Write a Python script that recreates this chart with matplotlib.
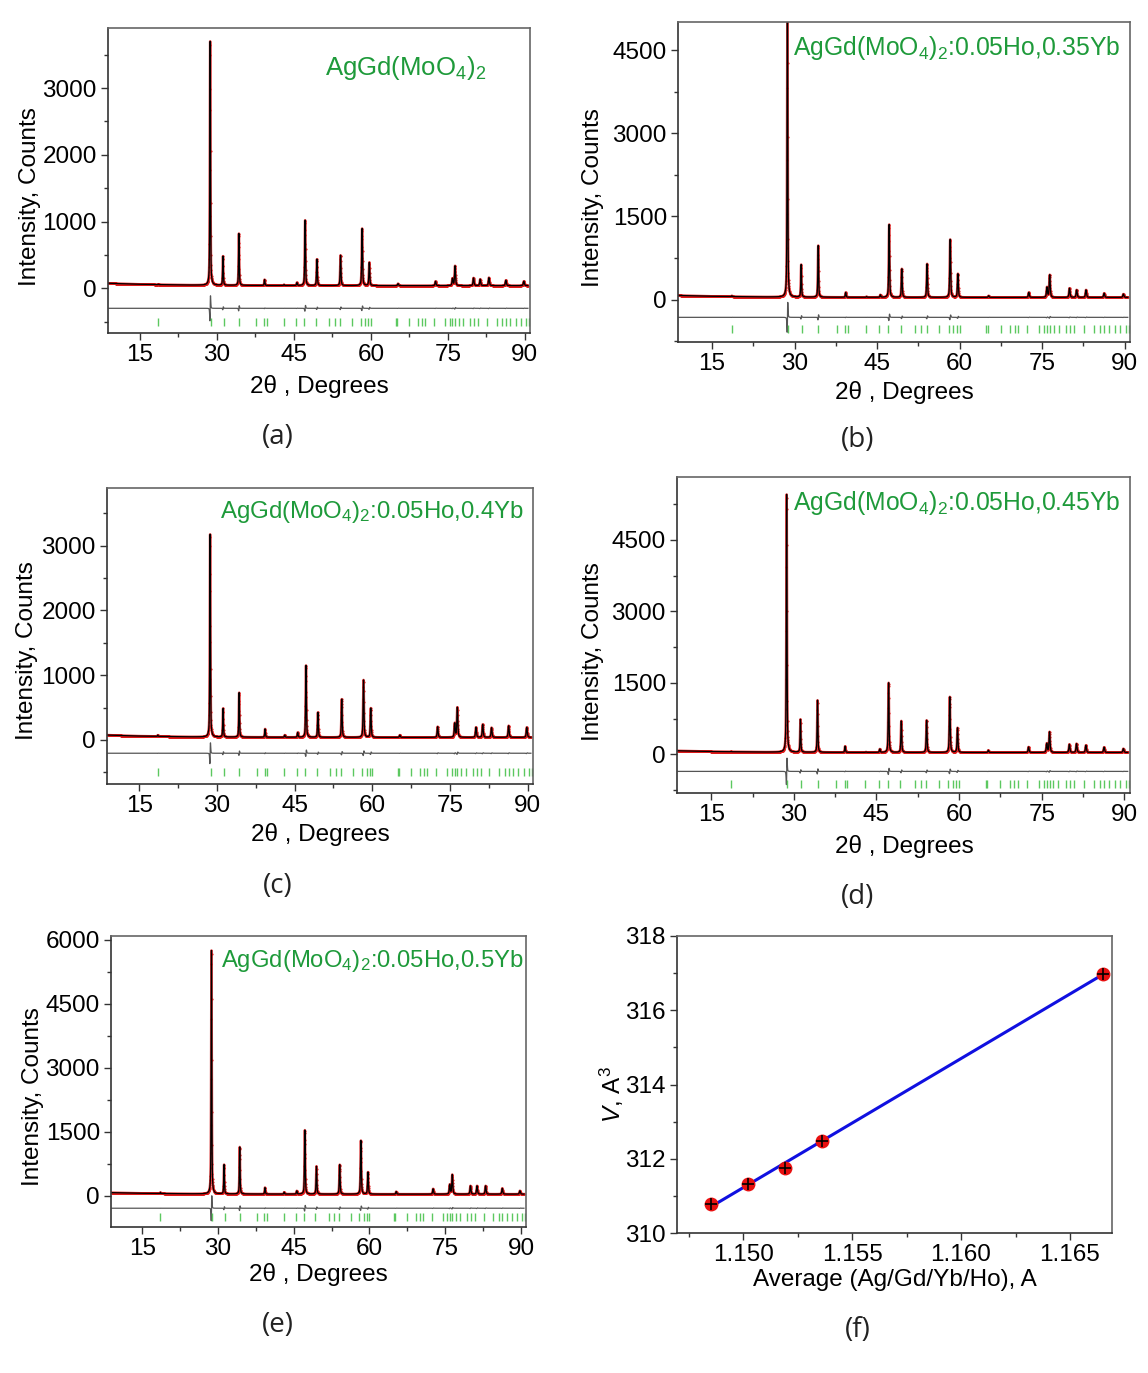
import numpy as np
import matplotlib
matplotlib.use("Agg")
import matplotlib.pyplot as plt
from matplotlib.ticker import MultipleLocator

plt.rcParams['font.family'] = ['Liberation Sans', 'DejaVu Sans']
plt.rcParams['mathtext.fontset'] = 'custom'
plt.rcParams['mathtext.rm'] = 'Liberation Sans'
plt.rcParams['mathtext.it'] = 'Liberation Sans:italic'
plt.rcParams['path.simplify'] = False

# ---- data ----
# reflection positions (2theta, deg) of the visible peaks
peak_pos = [18.6, 28.7, 31.2, 34.3, 39.3, 43.1, 45.6, 47.2, 49.5, 54.1, 58.3,
            59.7, 65.3, 72.6, 75.9, 76.4, 80.0, 81.3, 83.0, 86.3, 89.8]

# peak intensities (counts) for each sample
int_a = [60, 3700, 480, 820, 130, 55, 85, 1020, 435, 495, 895,
         385, 70, 105, 145, 335, 155, 135, 160, 120, 105]
int_b = [70, 5300, 630, 975, 130, 55, 85, 1355, 555, 645, 1085,
         465, 70, 130, 220, 445, 205, 175, 175, 115, 100]
int_c = [75, 3175, 485, 730, 170, 75, 115, 1150, 425, 630, 925,
         490, 75, 205, 255, 500, 195, 240, 190, 220, 195]
int_d = [60, 5450, 730, 1135, 170, 50, 110, 1500, 700, 715, 1205,
         555, 85, 155, 225, 470, 210, 225, 190, 150, 120]
int_e = [80, 5750, 730, 1145, 195, 85, 115, 1540, 690, 730, 1295,
         555, 100, 165, 260, 495, 235, 235, 235, 175, 120]

# background level
bg_pos = [9, 15, 25, 40, 60, 91]
bg_int = [75, 60, 48, 42, 40, 40]

# Bragg reflection markers
bragg_pos = [18.6, 28.8, 31.3, 34.3, 37.7, 39.2, 39.7, 43.0, 45.4, 47.0, 49.3,
             51.9, 53.0, 54.0, 56.3, 58.0, 58.9, 59.5, 60.0, 64.9, 65.1, 67.5,
             69.2, 70.0, 70.6, 72.3, 74.5, 75.4, 75.9, 76.4, 77.1, 78.0, 79.4,
             80.1, 80.9, 82.6, 84.5, 85.6, 86.3, 87.2, 88.2, 89.2, 90.2, 90.8]

names = [r"AgGd(MoO$_4$)$_2$",
         r"AgGd(MoO$_4$)$_2$:0.05Ho,0.35Yb",
         r"AgGd(MoO$_4$)$_2$:0.05Ho,0.4Yb",
         r"AgGd(MoO$_4$)$_2$:0.05Ho,0.45Yb",
         r"AgGd(MoO$_4$)$_2$:0.05Ho,0.5Yb"]
diff_level = [-300, -320, -205, -357, -290]
bragg_level = [-505, -525, -493, -616, -500]
y_limits = [(-670, 3900), (-765, 5010), (-680, 3890), (-810, 5816), (-730, 6090)]
y_major = [1000, 1500, 1000, 1500, 1500]
y_minor = [500, 750, 500, 750, 750]

# panel (f): cell volume vs average radius
avg_radius = [1.1485, 1.1502, 1.1519, 1.1536, 1.1665]
cell_vol = [310.78, 311.31, 311.76, 312.48, 316.98]

# ---- layout (pixel boxes: left, top, right, bottom) ----
W, H = 1148, 1373
boxes = [(108, 28, 530, 333), (678, 22, 1130, 342), (107, 488, 533, 784),
         (677, 477, 1130, 793), (111, 936, 526, 1227), (677, 936, 1112, 1233)]
xlab_pos = [(319, 386), (904, 392), (320, 835), (904, 847), (318, 1275), (895, 1280)]
ylab_pos = [(30, 197), (593, 198), (27, 651), (593, 652), (33, 1097), (612, 1095)]
name_pos = [(325, 68), (793, 48), (220, 512), (793, 503), (221, 961)]
name_size = [18.5, 17.8, 17.3, 17.8, 17.2]
letter_pos = [(278, 437), (858, 440), (278, 886), (858, 897), (278, 1325), (858, 1330)]
letters = ["(a)", "(b)", "(c)", "(d)", "(e)", "(f)"]

fig = plt.figure(figsize=(W / 100, H / 100), dpi=100)
FS = 17.5
green = "#1e9a3a"


def px(x, y):
    return x / W, 1 - y / H


def make_axes(box):
    l, t, r, b = box
    ax = fig.add_axes([l / W, 1 - b / H, (r - l) / W, (b - t) / H])
    for s in ax.spines.values():
        s.set_color("#666666")
        s.set_linewidth(1.2)
    ax.spines["left"].set_color("#333333")
    ax.spines["bottom"].set_color("#333333")
    ax.tick_params(which="both", direction="out", labelsize=FS, width=1,
                   top=False, right=False, pad=3, color="#333333")
    ax.tick_params(which="major", length=5)
    ax.tick_params(which="minor", length=3)
    return ax


def profile(x, pos, amp):
    y = np.zeros_like(x)
    for p, a in zip(pos, amp):
        w = 0.14 * (1 + (p - 20) / 100)
        u = (x - p) / w
        y += a * (0.55 / (1 + 4 * u ** 2) + 0.45 * np.exp(-4 * np.log(2) * u ** 2))
    return y


tt = np.arange(9.0, 90.6, 0.01)
bg = np.interp(tt, bg_pos, bg_int)
all_int = [int_a, int_b, int_c, int_d, int_e]

for i, ints in enumerate(all_int):
    ax = make_axes(boxes[i])
    amp = np.maximum(np.array(ints) - np.interp(peak_pos, bg_pos, bg_int), 5)
    calc = bg + profile(tt, peak_pos, amp)
    shifted = bg + profile(tt - 0.02, peak_pos, amp)
    ax.plot(tt, calc, color="#d41a1a", lw=1.8, alpha=0.8)
    ax.plot(tt[::3], calc[::3], ".", color="#e01818", ms=3.2, mew=0,
            alpha=0.9, snap=False)
    ax.plot(tt, calc, color="black", lw=0.9)
    diff = diff_level[i] + 0.3 * (shifted - calc)
    ax.plot(tt, diff, color="#555555", lw=0.9)
    ax.plot(bragg_pos, [bragg_level[i]] * len(bragg_pos), "|", color="#5cc860",
            ms=6, mew=1)
    ax.set_xlim(8.8, 91)
    ax.set_ylim(*y_limits[i])
    ax.xaxis.set_minor_locator(MultipleLocator(7.5))
    ax.yaxis.set_minor_locator(MultipleLocator(y_minor[i]))
    ax.set_xticks(np.arange(15, 91, 15))
    ax.set_yticks(np.arange(0, y_limits[i][1], y_major[i]))
    fig.text(*px(*name_pos[i]), names[i], color=green, fontsize=name_size[i],
             ha="left", va="center")
    fig.text(*px(*xlab_pos[i]), "2θ , Degrees", fontsize=FS, ha="center", va="center")
    fig.text(*px(*ylab_pos[i]), "Intensity, Counts", fontsize=FS, rotation=90,
             ha="center", va="center")

# panel (f)
ax = make_axes(boxes[5])
fit = np.polyfit(avg_radius, cell_vol, 1)
xf = np.array([avg_radius[0], avg_radius[-1]])
ax.plot(xf, np.polyval(fit, xf), color="#1010e0", lw=2.2, zorder=2)
ax.plot(avg_radius, cell_vol, "o", color="#e81010", ms=10, mew=0, zorder=3)
ax.plot(avg_radius, cell_vol, "+", color="black", ms=9, mew=1.2, zorder=4)
ax.set_xlim(1.14696, 1.16693)
ax.set_ylim(310, 318)
ax.xaxis.set_major_locator(MultipleLocator(0.005))
ax.xaxis.set_minor_locator(MultipleLocator(0.0025))
ax.yaxis.set_major_locator(MultipleLocator(2))
ax.yaxis.set_minor_locator(MultipleLocator(1))
ax.xaxis.set_major_formatter(matplotlib.ticker.FormatStrFormatter("%.3f"))
fig.text(*px(*xlab_pos[5]), "Average (Ag/Gd/Yb/Ho), A", fontsize=FS,
         ha="center", va="center")
fig.text(*px(*ylab_pos[5]), r"$V$, A$^3$", fontsize=FS, rotation=90,
         ha="center", va="center")

for lab, pos in zip(letters, letter_pos):
    fig.text(*px(*pos), lab, fontsize=20, family=["Open Sans", "DejaVu Sans"],
             color="#222222", ha="center", va="center")

fig.savefig("out.png", dpi=100)
